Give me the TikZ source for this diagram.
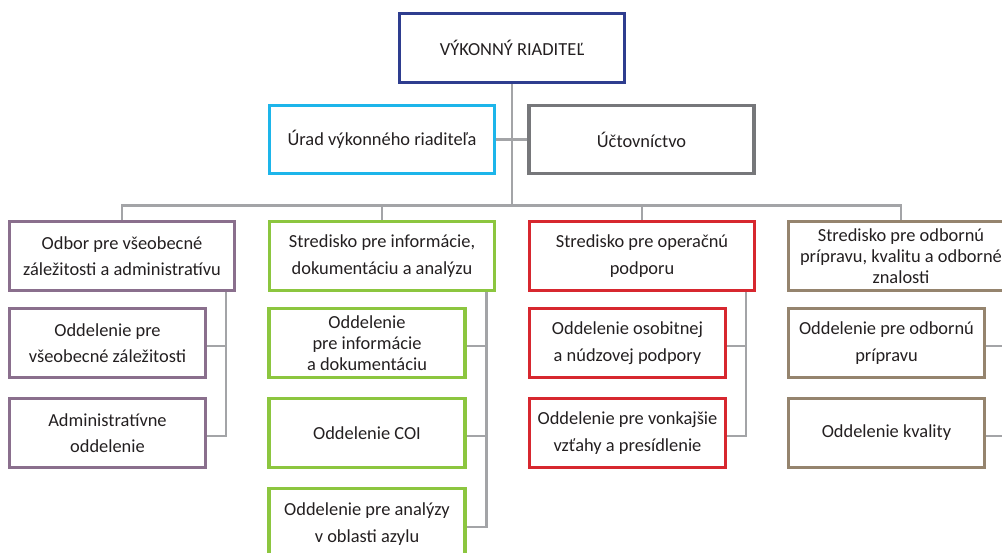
\documentclass[tikz,border=0pt]{standalone}
\usepackage{fontspec}
\setmainfont{Carlito}
\usetikzlibrary{calc}
\definecolor{txt}{HTML}{231F20}
\definecolor{linegray}{HTML}{A3A4A7}
\definecolor{cblue}{HTML}{2E3D8F}
\definecolor{ccyan}{HTML}{1DB5EA}
\definecolor{cgray}{HTML}{76777A}
\definecolor{cpurple}{HTML}{8A6F8D}
\definecolor{cgreen}{HTML}{8CC63F}
\definecolor{cred}{HTML}{D7272F}
\definecolor{cbrown}{HTML}{95846E}
\begin{document}
\begin{tikzpicture}[x=1pt,y=-1pt,
  box/.style={rectangle, line width=2.3pt, minimum width=224pt, minimum height=68pt,
    inner sep=0pt, align=center, text=txt, font=\fontsize{18.4}{26.5}\selectfont},
  boxthree/.style={box, font=\fontsize{18.4}{21}\selectfont},
  sub/.style={box, minimum width=195pt},
  subthree/.style={boxthree, minimum width=195pt},
  conn/.style={draw=linegray, line width=2.6pt}]
\useasboundingbox (0,0) rectangle (1002,552);
\clip (0,0) rectangle (1002,552);
\coordinate (busy) at (0,205.5);
% level 0 and staff
\node[box, draw=cblue] (top) at (512,48) {VÝKONNÝ RIADITEĽ};
\node[box, draw=ccyan, minimum height=67pt] (urad) at (382,139.5) {Úrad výkonného riaditeľa};
\node[box, draw=cgray, minimum height=67pt] (uct) at (641.5,139.5) {Účtovníctvo};
% level 1
\node[box, draw=cpurple] (A) at (122,256) {Odbor pre všeobecné\\záležitosti a administratívu};
\node[box, draw=cgreen] (B) at (382,256) {Stredisko pre informácie,\\dokumentáciu a analýzu};
\node[box, draw=cred] (C) at (642,256) {Stredisko pre operačnú\\podporu};
\node[boxthree, draw=cbrown] (D) at (901,256) {Stredisko pre odbornú\\prípravu, kvalitu a odborné\\znalosti};
% level 2
\node[sub, draw=cpurple] (A1) at (107.5,343) {Oddelenie pre\\všeobecné záležitosti};
\node[sub, draw=cpurple] (A2) at (107.5,433) {Administratívne\\oddelenie};
\node[subthree, draw=cgreen] (B1) at (367,343) {Oddelenie\\pre informácie\\a dokumentáciu};
\node[sub, draw=cgreen] (B2) at (367,433) {Oddelenie COI};
\node[sub, draw=cgreen, minimum height=70pt] (B3) at (367,524) {Oddelenie pre analýzy\\v oblasti azylu};
\node[sub, draw=cred] (C1) at (627.5,343) {Oddelenie osobitnej\\a núdzovej podpory};
\node[sub, draw=cred] (C2) at (627.5,433) {Oddelenie pre vonkajšie\\vzťahy a presídlenie};
\node[sub, draw=cbrown] (D1) at (886.5,343) {Oddelenie pre odbornú\\prípravu};
\node[sub, draw=cbrown] (D2) at (886.5,433) {Oddelenie kvality};
% connectors, top
\draw[conn] (top.south) -- (top.south |- busy);
\draw[conn] (urad.east) -- (urad.east -| top.south);
\draw[conn] (uct.west) -- (uct.west -| top.south);
\draw[conn] (A.north) -- (A.north |- busy) -- (D.north |- busy) -- (D.north);
\draw[conn] (B.north) -- (B.north |- busy);
\draw[conn] (C.north) -- (C.north |- busy);
% side branches
\coordinate (av) at ($(A1.east)+(20,0)$);
\coordinate (bv) at ($(B1.east)+(21,0)$);
\coordinate (cv) at ($(C1.east)+(20,0)$);
\coordinate (dv) at ($(D1.east)+(20,0)$);
\draw[conn] (av |- A.south) -- ($(av |- A2.east)+(0,3)$) -- ($(A2.east)+(0,3)$);
\draw[conn] ($(A1.east)+(0,3)$) -- ($(av |- A1.east)+(0,3)$);
\draw[conn] (bv |- B.south) -- ($(bv |- B3.east)+(0,3)$) -- ($(B3.east)+(0,3)$);
\draw[conn] ($(B1.east)+(0,3)$) -- ($(bv |- B1.east)+(0,3)$);
\draw[conn] ($(B2.east)+(0,3)$) -- ($(bv |- B2.east)+(0,3)$);
\draw[conn] (cv |- C.south) -- ($(cv |- C2.east)+(0,3)$) -- ($(C2.east)+(0,3)$);
\draw[conn] ($(C1.east)+(0,3)$) -- ($(cv |- C1.east)+(0,3)$);
\draw[conn] (dv |- D.south) -- ($(dv |- D2.east)+(0,3)$) -- ($(D2.east)+(0,3)$);
\draw[conn] ($(D1.east)+(0,3)$) -- ($(dv |- D1.east)+(0,3)$);
% draw boxes on top of connectors
\foreach \n/\c in {top/cblue,urad/ccyan,uct/cgray,A/cpurple,B/cgreen,C/cred,D/cbrown,A1/cpurple,A2/cpurple,B1/cgreen,B2/cgreen,B3/cgreen,C1/cred,C2/cred,D1/cbrown,D2/cbrown}
  \draw[\c, line width=2.3pt] (\n.north west) rectangle (\n.south east);
\end{tikzpicture}
\end{document}
